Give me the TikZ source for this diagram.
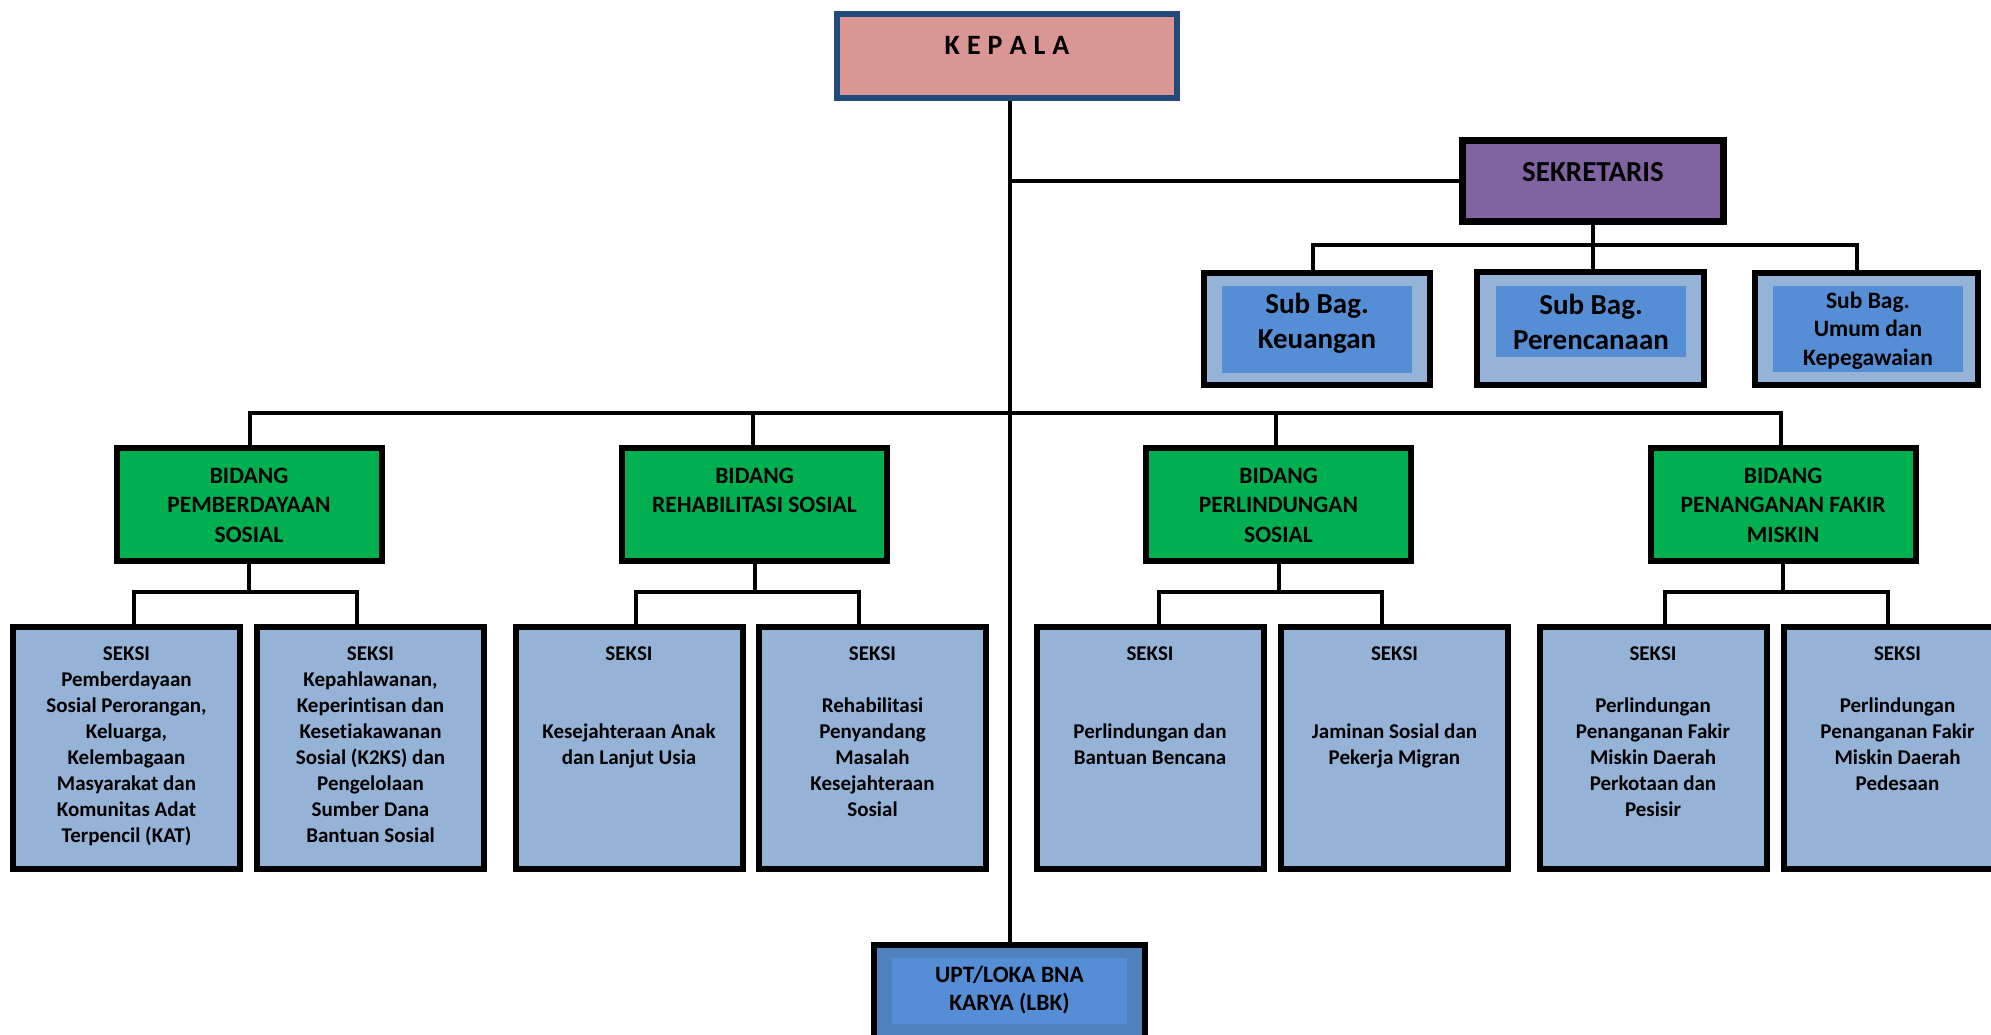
\documentclass[tikz,border=0pt]{standalone}
\usepackage{fontspec}
\setmainfont{Carlito}[Ligatures={NoCommon,NoRare}]
\definecolor{cKepala}{HTML}{D99694}
\definecolor{cKepalaB}{HTML}{234A7C}
\definecolor{cSek}{HTML}{8064A2}
\definecolor{cLight}{HTML}{95B3D7}
\definecolor{cMid}{HTML}{558ED5}
\definecolor{cUpt}{HTML}{4F81BD}
\definecolor{cBidang}{HTML}{00B050}
\newcommand\tb[4]{\parbox[t][#1][t]{#2}{\centering\rule{0pt}{#3}#4\par}}
\begin{document}
\begin{tikzpicture}[x=1pt,y=-1pt,
  box/.style={draw=black,line width=6pt,inner sep=0pt},
  seksi/.style={box,fill=cLight,font=\bfseries\fontsize{21pt}{26pt}\selectfont},
  bidang/.style={box,fill=cBidang,font=\bfseries\fontsize{23.5pt}{29.5pt}\selectfont},
  subouter/.style={box,fill=cLight},
  subinner/.style={fill=cMid,inner sep=0pt,draw=none},
  conn/.style={line width=4pt,black}]
\useasboundingbox (0,0) rectangle (1991,1035);
\clip (0,0) rectangle (1991,1035);

% KEPALA
\node[box,draw=cKepalaB,fill=cKepala,font=\bfseries\fontsize{28pt}{34pt}\selectfont] (kepala) at (1007,56)
  {\tb{84pt}{340pt}{41pt}{K\kern7pt E\kern7pt P\kern7pt A\kern7pt L\kern7pt A}};

% SEKRETARIS
\node[box,line width=7pt,fill=cSek,font=\bfseries\fontsize{29pt}{35pt}\selectfont] (sek) at (1593,181)
  {\tb{81pt}{261pt}{41.5pt}{SEKRETARIS}};

% Sub Bag
\node[subouter,minimum width=226pt,minimum height=112pt] (keu) at (1317,329) {};
\node[subinner,font=\bfseries\fontsize{29pt}{35pt}\selectfont] (keut) at (1317,329.5)
  {\tb{87pt}{190pt}{27pt}{Sub Bag.\\Keuangan}};
\node[subouter,minimum width=227pt,minimum height=113pt] (per) at (1590.5,328.5) {};
\node[subinner,font=\bfseries\fontsize{29pt}{35pt}\selectfont] (pert) at (1591,321.5)
  {\tb{71pt}{190pt}{28pt}{Sub Bag.\\Perencanaan}};
\node[subouter,minimum width=223pt,minimum height=112pt] (umum) at (1866,329) {};
\node[subinner,font=\bfseries\fontsize{23.5pt}{28.5pt}\selectfont] (umumt) at (1868,329)
  {\tb{86pt}{190pt}{22pt}{Sub Bag.\\Umum dan\\Kepegawaian}};

% BIDANG
\node[bidang] (bid1) at (249,504.5) {\tb{113pt}{265pt}{35pt}{BIDANG\\PEMBERDAYAAN\\SOSIAL}};
\node[bidang] (bid2) at (754.5,504.5) {\tb{113pt}{265pt}{35pt}{BIDANG\\REHABILITASI SOSIAL}};
\node[bidang] (bid3) at (1278.5,504.5) {\tb{113pt}{265pt}{35pt}{BIDANG\\PERLINDUNGAN\\SOSIAL}};
\node[bidang] (bid4) at (1783,504.5) {\tb{113pt}{265pt}{35pt}{BIDANG\\PENANGANAN FAKIR\\MISKIN}};

% SEKSI
\node[seksi] (s1) at (126.5,748) {\tb{242pt}{227pt}{33pt}{SEKSI\\Pemberdayaan\\Sosial Perorangan,\\Keluarga,\\Kelembagaan\\Masyarakat dan\\Komunitas Adat\\Terpencil (KAT)}};
\node[seksi] (s2) at (370.5,748) {\tb{242pt}{227pt}{33pt}{SEKSI\\Kepahlawanan,\\Keperintisan dan\\Kesetiakawanan\\Sosial (K2KS) dan\\Pengelolaan\\Sumber Dana\\Bantuan Sosial}};
\node[seksi] (s3) at (629,748) {\tb{242pt}{227pt}{33pt}{SEKSI\\[52pt]Kesejahteraan Anak\\dan Lanjut Usia}};
\node[seksi] (s4) at (872.5,748) {\tb{242pt}{227pt}{33pt}{SEKSI\\[26pt]Rehabilitasi\\Penyandang\\Masalah\\Kesejahteraan\\Sosial}};
\node[seksi] (s5) at (1150,748) {\tb{242pt}{227pt}{33pt}{SEKSI\\[52pt]Perlindungan dan\\Bantuan Bencana}};
\node[seksi] (s6) at (1394.5,748) {\tb{242pt}{227pt}{33pt}{SEKSI\\[52pt]Jaminan Sosial dan\\Pekerja Migran}};
\node[seksi] (s7) at (1653,748) {\tb{242pt}{227pt}{33pt}{SEKSI\\[26pt]Perlindungan\\Penanganan Fakir\\Miskin Daerah\\Perkotaan dan\\Pesisir}};
\node[seksi] (s8) at (1897.5,748) {\tb{242pt}{227pt}{33pt}{SEKSI\\[26pt]Perlindungan\\Penanganan Fakir\\Miskin Daerah\\Pedesaan}};

% UPT
\node[box,fill=cUpt,minimum width=271pt,minimum height=115pt] (upt) at (1009.5,1002.5) {};
\node[subinner,font=\bfseries\fontsize{23.5pt}{28pt}\selectfont] (uptt) at (1009.5,991)
  {\tb{66pt}{235pt}{24pt}{UPT/LOKA BNA\\KARYA (LBK)}};

% junction coordinates
\coordinate (jk) at (1313,244.5);
\coordinate (ju) at (1857,244.5);
\coordinate (m1) at (250,413);
\coordinate (m2) at (753,413);
\coordinate (m3) at (1276,413);
\coordinate (m4) at (1781,413);
\coordinate (a1) at (134,591.5);  \coordinate (b1) at (357,591.5);
\coordinate (a2) at (636,591.5);  \coordinate (b2) at (859,591.5);
\coordinate (a3) at (1159,591.5); \coordinate (b3) at (1382,591.5);
\coordinate (a4) at (1665,591.5); \coordinate (b4) at (1888,591.5);

% connectors
\draw[conn] (upt.north |- kepala.south) -- (upt.north);
\draw[conn] (upt.north |- sek.west) -- (sek.west);
\draw[conn] (sek.south) -- (sek.south |- per.north);
\draw[conn] (jk |- keu.north) -- (jk) -- (ju) -- (ju |- umum.north);
\draw[conn] (m1 |- bid1.north) -- (m1) -- (m4) -- (m4 |- bid4.north);
\draw[conn] (m2) -- (m2 |- bid2.north);
\draw[conn] (m3) -- (m3 |- bid3.north);
\draw[conn] (bid1.south) -- (bid1.south |- a1);
\draw[conn] (bid2.south) -- (bid2.south |- a2);
\draw[conn] (bid3.south) -- (bid3.south |- a3);
\draw[conn] (bid4.south) -- (bid4.south |- a4);
\draw[conn] (a1 |- s1.north) -- (a1) -- (b1) -- (b1 |- s2.north);
\draw[conn] (a2 |- s3.north) -- (a2) -- (b2) -- (b2 |- s4.north);
\draw[conn] (a3 |- s5.north) -- (a3) -- (b3) -- (b3 |- s6.north);
\draw[conn] (a4 |- s7.north) -- (a4) -- (b4) -- (b4 |- s8.north);
\end{tikzpicture}
\end{document}
